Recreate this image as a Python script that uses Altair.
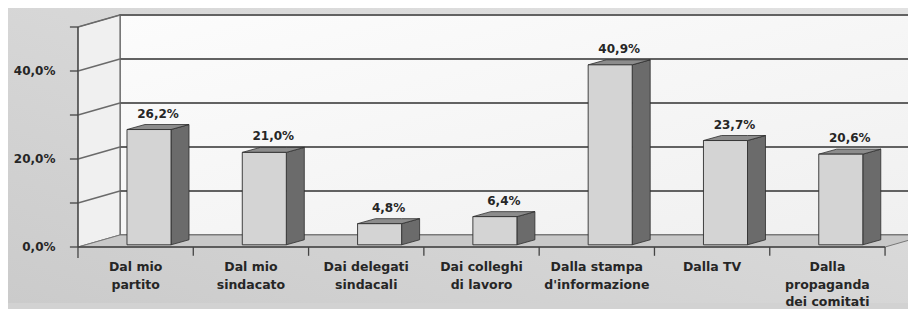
import altair as alt
import pandas as pd

# ---- data ----
categories = ["Dal mio\npartito", "Dal mio\nsindacato", "Dai delegati\nsindacali",
              "Dai colleghi\ndi lavoro", "Dalla stampa\nd'informazione", "Dalla TV",
              "Dalla\npropaganda\ndei comitati"]
values = [26.2, 21.0, 4.8, 6.4, 40.9, 23.7, 20.6]
value_labels = ["26,2%", "21,0%", "4,8%", "6,4%", "40,9%", "23,7%", "20,6%"]
tick_values = [0, 10, 20, 30, 40, 50]
tick_labels = ["0,0%", "", "20,0%", "", "40,0%", ""]

# ---- geometry / style constants ----
W, H = 900, 295
XMIN, XMAX = -0.607, 7.199
YMIN, YMAX = -12.727, 54.318
WX, WY = 0.364, 2.73          # wall depth offset (data units)
BX0, BX1 = 0.425, 0.807       # bar front face within its category
BDX, BDY = 0.156, 1.14        # bar depth offset
BASE = 0.5
FONT = "DejaVu Sans"
TXT = "#262626"
n = len(categories)
ymax_grid = tick_values[-1]

xs = alt.Scale(domain=[XMIN, XMAX], nice=False, zero=False)
ys = alt.Scale(domain=[YMIN, YMAX], nice=False, zero=False)

def X(f="x"):
    return alt.X(f"{f}:Q", scale=xs, axis=None)

def Y(f="y"):
    return alt.Y(f"{f}:Q", scale=ys, axis=None, stack=None)

# background gradient
bg = alt.Chart(pd.DataFrame({"x": [XMIN], "x2": [XMAX], "y": [YMIN], "y2": [YMAX]})).mark_rect(
    color=alt.Gradient(gradient="linear", x1=0, y1=1, x2=1, y2=0,
                       stops=[alt.GradientStop(color="#cbcbcb", offset=0),
                              alt.GradientStop(color="#e2e2e2", offset=1)])
).encode(x=X(), x2="x2:Q", y=Y(), y2="y2:Q")

# back wall
back = alt.Chart(pd.DataFrame({"x": [WX], "x2": [XMAX + 1], "y": [WY], "y2": [ymax_grid + WY]})).mark_rect(
    color=alt.Gradient(gradient="linear", x1=0, y1=0, x2=1, y2=1,
                       stops=[alt.GradientStop(color="#fcfcfc", offset=0),
                              alt.GradientStop(color="#efefef", offset=1)]),
    stroke="#555555", strokeWidth=1.5, clip=True
).encode(x=X(), x2="x2:Q", y=Y(), y2="y2:Q")

# left side wall (parallelogram)
side_wall = alt.Chart(pd.DataFrame({
    "x": [0, WX], "y": [0, WY], "y2": [ymax_grid, ymax_grid + WY]})).mark_area(
    color="#f0f0f0", stroke="#666666", strokeWidth=1, orient="vertical"
).encode(x=X(), y=Y(), y2="y2:Q")

# floor (parallelogram)
floor = alt.Chart(pd.DataFrame({
    "x": [0, WX, n, n + WX], "y": [0, 0, 0, WY], "y2": [0, WY, WY, WY]})).mark_area(
    color="#c8c8c8", stroke="#777777", strokeWidth=1, orient="vertical", clip=True
).encode(x=X(), y=Y(), y2="y2:Q")

# gridlines on back wall and side wall
grid_df = pd.DataFrame({"v": tick_values[1:]})
grid_df["yb"] = grid_df["v"] + WY
grid_df["x0"] = 0.0
grid_df["xw"] = WX
grid_df["xe"] = XMAX + 1
grid_back = alt.Chart(grid_df).mark_rule(color="#626262", strokeWidth=1.8, clip=True).encode(
    x=X("xw"), x2="xe:Q", y=Y("yb"))
grid_side = alt.Chart(grid_df).mark_rule(color="#6a6a6a", strokeWidth=1.4).encode(
    x=X("x0"), x2="xw:Q", y=Y("v"), y2="yb:Q")

# axes
vaxis = alt.Chart(pd.DataFrame({"x": [0], "y": [-2.5], "y2": [ymax_grid]})).mark_rule(
    color="#444444", strokeWidth=1.3).encode(x=X(), y=Y(), y2="y2:Q")
haxis = alt.Chart(pd.DataFrame({"x": [0], "x2": [n], "y": [0]})).mark_rule(
    color="#444444", strokeWidth=1.3).encode(x=X(), x2="x2:Q", y=Y())
vt_df = pd.DataFrame({"v": tick_values, "t": tick_labels})
vt_df["x0"] = -0.07
vt_df["x1"] = 0.0
vt_df["xl"] = -0.195
vticks = alt.Chart(vt_df).mark_rule(color="#444444", strokeWidth=1.3).encode(
    x=X("x0"), x2="x1:Q", y=Y("v"))
ht_df = pd.DataFrame({"k": list(range(1, n + 1))})
ht_df["y0"] = 0.0
ht_df["y1"] = -2.0
hticks = alt.Chart(ht_df).mark_rule(color="#444444", strokeWidth=1.3).encode(
    x=X("k"), y=Y("y0"), y2="y1:Q")
vlabels = alt.Chart(vt_df).mark_text(
    align="right", baseline="middle", font=FONT, fontSize=12, fontWeight="bold",
    color=TXT).encode(x=X("xl"), y=Y("v"), text="t:N")

# bars
side_rows, top_rows, front_rows, lab_rows = [], [], [], []
for i, (c, v, lab) in enumerate(zip(categories, values, value_labels)):
    side_rows += [
        {"bar": i, "x": i + BX1, "y": BASE, "y2": v + BASE},
        {"bar": i, "x": i + BX1 + BDX, "y": BASE + BDY, "y2": v + BASE + BDY},
    ]
    top_rows += [
        {"bar": i, "x": i + BX0, "y": v + BASE, "y2": v + BASE},
        {"bar": i, "x": i + BX0 + BDX, "y": v + BASE, "y2": v + BASE + BDY},
        {"bar": i, "x": i + BX1, "y": v + BASE, "y2": v + BASE + BDY},
        {"bar": i, "x": i + BX1 + BDX, "y": v + BASE + BDY, "y2": v + BASE + BDY},
    ]
    front_rows.append({"bar": i, "x": i + BX0, "x2": i + BX1, "y": BASE, "y2": v + BASE})
    lab_rows.append({"bar": i, "x": i + (BX0 + BX1 + BDX) / 2, "y": v + BASE + BDY,
                     "t": lab, "cx": i + 0.5, "cy": 0.0, "cat": c})

bar_side = alt.Chart(pd.DataFrame(side_rows)).mark_area(
    color="#6b6b6b", stroke="#2e2e2e", strokeWidth=0.8, orient="vertical"
).encode(x=X(), y=Y(), y2="y2:Q", detail="bar:N")
bar_top = alt.Chart(pd.DataFrame(top_rows)).mark_area(
    color="#8c8c8c", stroke="#2e2e2e", strokeWidth=0.8, orient="vertical"
).encode(x=X(), y=Y(), y2="y2:Q", detail="bar:N")
bar_front = alt.Chart(pd.DataFrame(front_rows)).mark_rect(
    color="#d4d4d4", stroke="#2e2e2e", strokeWidth=0.9
).encode(x=X(), x2="x2:Q", y=Y(), y2="y2:Q")

labs_df = pd.DataFrame(lab_rows)
val_text = alt.Chart(labs_df).mark_text(
    baseline="bottom", dy=-4, font=FONT, fontSize=12, fontWeight="bold", color=TXT
).encode(x=X(), y=Y(), text="t:N")
cat_text = alt.Chart(labs_df).mark_text(
    baseline="top", dy=14, font=FONT, fontSize=12.5, fontWeight="bold", color=TXT,
    lineBreak="\n", lineHeight=17.5
).encode(x=X("cx"), y=Y("cy"), text="cat:N")

chart = alt.layer(
    bg, back, side_wall, floor, grid_back, grid_side, vaxis, haxis, vticks, hticks,
    vlabels, bar_side, bar_top, bar_front, val_text, cat_text
).properties(width=W, height=H, padding=0, background="#d2d2d2").configure_view(stroke=None)

chart.save("out.html", embed_options={"renderer": "svg", "actions": False})
